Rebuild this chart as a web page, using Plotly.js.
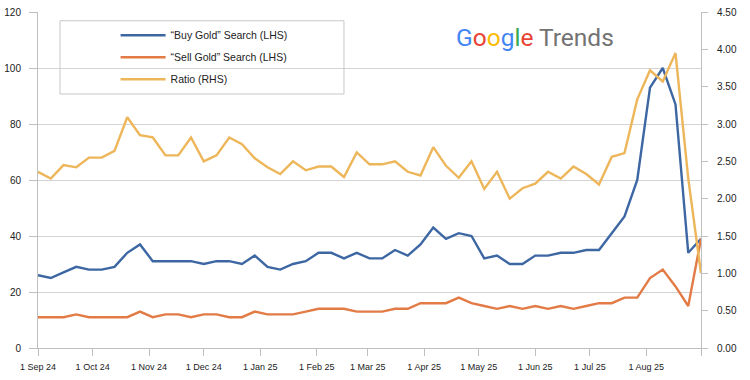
<!DOCTYPE html>
<html>
<head>
<meta charset="utf-8">
<script src="https://cdn.plot.ly/plotly-3.0.1.min.js"></script>
<style>html,body{margin:0;padding:0;background:#fff;}#chart{width:750px;height:380px;}</style>
</head>
<body>
<div id="chart"></div>
<script>
const weeks = ["2024-09-01","2024-09-08","2024-09-15","2024-09-22","2024-09-29","2024-10-06","2024-10-13","2024-10-20","2024-10-27","2024-11-03","2024-11-10","2024-11-17","2024-11-24","2024-12-01","2024-12-08","2024-12-15","2024-12-22","2024-12-29","2025-01-05","2025-01-12","2025-01-19","2025-01-26","2025-02-02","2025-02-09","2025-02-16","2025-02-23","2025-03-02","2025-03-09","2025-03-16","2025-03-23","2025-03-30","2025-04-06","2025-04-13","2025-04-20","2025-04-27","2025-05-04","2025-05-11","2025-05-18","2025-05-25","2025-06-01","2025-06-08","2025-06-15","2025-06-22","2025-06-29","2025-07-06","2025-07-13","2025-07-20","2025-07-27","2025-08-03","2025-08-10","2025-08-17","2025-08-24","2025-08-31"];
const buyGold = [26,25,27,29,28,28,29,34,37,31,31,31,31,30,31,31,30,33,29,28,30,31,34,34,32,34,32,32,35,33,37,43,39,41,40,32,33,30,30,33,33,34,34,35,35,41,47,60,93,100,87,34,39];
const sellGold = [11,11,11,12,11,11,11,11,13,11,12,12,11,12,12,11,11,13,12,12,12,13,14,14,14,13,13,13,14,14,16,16,16,18,16,15,14,15,14,15,14,15,14,15,16,16,18,18,25,28,22,15,39];
const ratio = [2.36,2.27,2.45,2.42,2.55,2.55,2.64,3.09,2.85,2.82,2.58,2.58,2.82,2.50,2.58,2.82,2.73,2.54,2.42,2.33,2.50,2.38,2.43,2.43,2.29,2.62,2.46,2.46,2.50,2.36,2.31,2.69,2.44,2.28,2.50,2.13,2.36,2.00,2.14,2.20,2.36,2.27,2.43,2.33,2.19,2.56,2.61,3.33,3.72,3.57,3.95,2.27,1.00];
const seriesNames = ["\u201cBuy Gold\u201d Search (LHS)", "\u201cSell Gold\u201d Search (LHS)", "Ratio (RHS)"];
const tickDates = ["2024-09-01","2024-10-01","2024-11-01","2024-12-01","2025-01-01","2025-02-01","2025-03-01","2025-04-01","2025-05-01","2025-06-01","2025-07-01","2025-08-01","2025-08-31"];
const tickLabels = ["1 Sep 24","1 Oct 24","1 Nov 24","1 Dec 24","1 Jan 25","1 Feb 25","1 Mar 25","1 Apr 25","1 May 25","1 Jun 25","1 Jul 25","1 Aug 25",""];

const FONT = "Liberation Sans, Arial, sans-serif";
const traces = [
  {x: weeks, y: buyGold, name: seriesNames[0], type: "scatter", mode: "lines", line: {color: "#3D67A3", width: 2.4}, legendgroup: "a"},
  {x: weeks, y: sellGold, name: seriesNames[1], type: "scatter", mode: "lines", line: {color: "#E27B45", width: 2.4}, legendgroup: "b"},
  {x: weeks, y: ratio, name: seriesNames[2], type: "scatter", mode: "lines", yaxis: "y2", line: {color: "#EDB65A", width: 2.4}, legendgroup: "c"}
];
const layout = {
  width: 750, height: 380,
  margin: {l: 38, r: 49, t: 12, b: 32, pad: 0},
  paper_bgcolor: "#fff", plot_bgcolor: "rgba(0,0,0,0)",
  font: {family: FONT, size: 10, color: "#222"},
  showlegend: true,
  legend: {x: 0.117, y: 0.974, xanchor: "left", yanchor: "top", bgcolor: "rgba(0,0,0,0)", borderwidth: 0,
           font: {family: FONT, size: 10.5, color: "#222"}, traceorder: "grouped", tracegroupgap: 3, itemwidth: 45},
  xaxis: {type: "date", range: ["2024-09-01", "2025-08-31"], tickmode: "array", tickvals: tickDates, ticktext: tickLabels,
          ticks: "outside", ticklen: 7, tickcolor: "#bfbfbf", showline: true, linecolor: "#bfbfbf", linewidth: 1,
          showgrid: false, zeroline: false, tickfont: {size: 9, color: "#222"}, ticklabelstandoff: 3, fixedrange: true},
  yaxis: {range: [0, 120], dtick: 20, tick0: 0, ticks: "outside", ticklen: 8, tickcolor: "#bfbfbf",
          showline: true, linecolor: "#bfbfbf", linewidth: 1, showgrid: true, gridcolor: "#d4d4d4", gridwidth: 1,
          zeroline: false, tickfont: {size: 10, color: "#222"}, ticklabelstandoff: 6},
  yaxis2: {range: [0, 4.5], dtick: 0.5, tick0: 0, tickformat: ".2f", overlaying: "y", side: "right",
           ticks: "outside", ticklen: 6, tickcolor: "#bfbfbf", showline: true, linecolor: "#bfbfbf", linewidth: 1,
           showgrid: false, zeroline: false, tickfont: {size: 10, color: "#222"}, ticklabelstandoff: 7},
  shapes: [
    {type: "rect", xref: "paper", yref: "paper", x0: 0.0332, x1: 0.4615, y0: 0.756, y1: 0.974,
     line: {color: "#c8c8c8", width: 1}, fillcolor: "rgba(0,0,0,0)", layer: "above"}
  ],
  annotations: [
    {xref: "paper", yref: "paper", x: 0.749, y: 0.925, xanchor: "center", yanchor: "middle", showarrow: false,
     font: {family: "Roboto, Open Sans, sans-serif", size: 24.5, color: "#737373"},
     text: '<span style="color:#4285F4">G</span><span style="color:#EA4335">o</span><span style="color:#FBBC05">o</span><span style="color:#4285F4">g</span><span style="color:#34A853">l</span><span style="color:#EA4335">e</span> Trends'}
  ]
};
Plotly.newPlot("chart", traces, layout, {displayModeBar: false, staticPlot: true});
</script>
</body>
</html>
